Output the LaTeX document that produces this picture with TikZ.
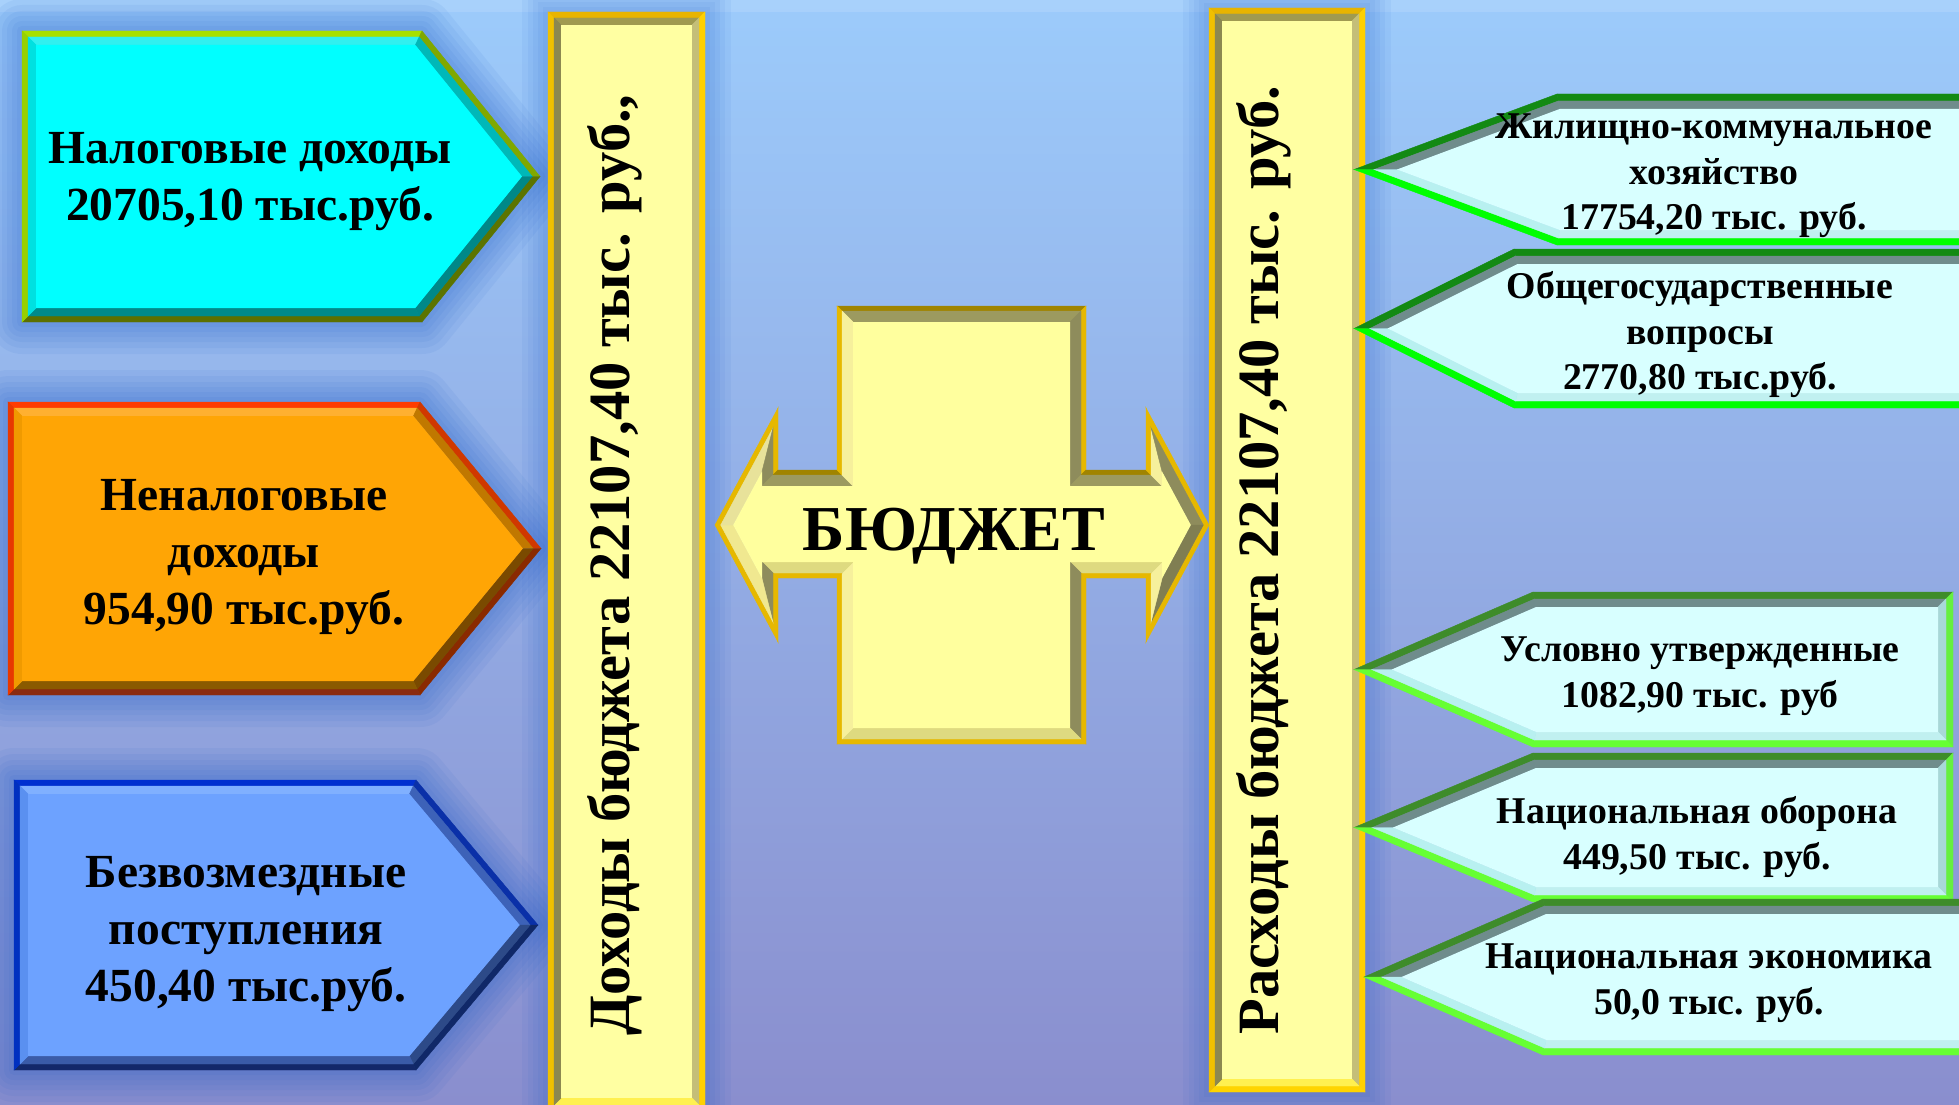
\documentclass[tikz,border=0pt]{standalone}
\usepackage{fontspec}
\setmainfont{Liberation Serif}
\usetikzlibrary{calc}
\definecolor{bgtop}{HTML}{9CCBFB}
\definecolor{bgbot}{HTML}{8A8ECE}
\definecolor{glowc}{HTML}{1A5AC8}
% left shape 1 (cyan)
\definecolor{aF}{HTML}{00FFFF}
\definecolor{aB1}{HTML}{A6E000}\definecolor{aB2}{HTML}{80A800}\definecolor{aB3}{HTML}{5C7400}\definecolor{aB4}{HTML}{5C7000}\definecolor{aB5}{HTML}{98D000}
\definecolor{aV1}{HTML}{30F0F0}\definecolor{aV2}{HTML}{00B8B8}\definecolor{aV3}{HTML}{008888}\definecolor{aV4}{HTML}{008A8A}\definecolor{aV5}{HTML}{00E0E0}
% left shape 2 (orange)
\definecolor{bF}{HTML}{FFA505}
\definecolor{bB1}{HTML}{FF3C00}\definecolor{bB2}{HTML}{D03800}\definecolor{bB3}{HTML}{8A2A00}\definecolor{bB4}{HTML}{8A2A10}\definecolor{bB5}{HTML}{E83800}
\definecolor{bV1}{HTML}{FFB030}\definecolor{bV2}{HTML}{C07800}\definecolor{bV3}{HTML}{7A4A00}\definecolor{bV4}{HTML}{8A5A00}\definecolor{bV5}{HTML}{F09A00}
% left shape 3 (blue)
\definecolor{cF}{HTML}{6DA2FF}
\definecolor{cB1}{HTML}{0030D0}\definecolor{cB2}{HTML}{0A30A8}\definecolor{cB3}{HTML}{102868}\definecolor{cB4}{HTML}{13286A}\definecolor{cB5}{HTML}{0030C0}
\definecolor{cV1}{HTML}{80B0FF}\definecolor{cV2}{HTML}{3D62B8}\definecolor{cV3}{HTML}{2D4A88}\definecolor{cV4}{HTML}{3A5BA8}\definecolor{cV5}{HTML}{5A90F0}
% right shapes
\definecolor{rF}{HTML}{D8FFFF}
\definecolor{rBd}{HTML}{138A13}\definecolor{rBl}{HTML}{00FF00}\definecolor{rBr}{HTML}{20E020}
\definecolor{sBd}{HTML}{3E8C2A}\definecolor{sBl}{HTML}{66FF33}\definecolor{sBr}{HTML}{66F040}
\definecolor{rV1}{HTML}{6F8C8C}\definecolor{rV2}{HTML}{708C8C}\definecolor{rV3}{HTML}{A8D8D8}\definecolor{rV4}{HTML}{C0F0F0}\definecolor{rV5}{HTML}{B8F0F0}
% columns
\definecolor{kF}{HTML}{FFFFA2}
\definecolor{kB1}{HTML}{E8B400}\definecolor{kB2}{HTML}{FFD000}\definecolor{kB3}{HTML}{FFD400}\definecolor{kB4}{HTML}{F0C000}
\definecolor{kV1}{HTML}{A09A50}\definecolor{kV2}{HTML}{C4BE78}\definecolor{kV3}{HTML}{FFF050}\definecolor{kV4}{HTML}{8C8850}
% cross
\definecolor{xF}{HTML}{FFFF9E}
\definecolor{xBd}{HTML}{A08400}\definecolor{xB}{HTML}{E6B800}
\definecolor{xVd}{HTML}{9C9A60}\definecolor{xVr}{HTML}{8E8C5C}\definecolor{xVr2}{HTML}{807E52}
\definecolor{xVl}{HTML}{F6F09C}\definecolor{xVl2}{HTML}{F0E890}\definecolor{xVl3}{HTML}{E8E29A}\definecolor{xVb}{HTML}{DEDA80}

\newcommand\bwA{6}\newcommand\bwB{14}
% right-pointing pentagon: prefix, x0, x1, xt, y0, y1
\newcommand\mkpentR[6]{%
  \pgfmathsetmacro\qH{(#6-#5)/2}%
  \pgfmathsetmacro\qL{#4-#3}%
  \pgfmathsetmacro\qR{100*sqrt((\qH/100)^2+(\qL/100)^2)}%
  \pgfmathsetmacro\qM{(#5+#6)/2}%
  \pgfmathsetmacro\qA{(\qL-\qR)/\qH}%
  \pgfmathsetmacro\qT{\qR/\qH}%
  \foreach \k/\d in {0/0,1/\bwA,2/\bwB}{%
    \coordinate (#1\k a) at (#2+\d,#5+\d);
    \coordinate (#1\k b) at (#3+\d*\qA,#5+\d);
    \coordinate (#1\k c) at (#4-\d*\qT,\qM);
    \coordinate (#1\k d) at (#3+\d*\qA,#6-\d);
    \coordinate (#1\k e) at (#2+\d,#6-\d);
  }%
}
% left-pointing pentagon: prefix, xt, x1, x2, y0, y1
\newcommand\mkpentL[6]{%
  \pgfmathsetmacro\qH{(#6-#5)/2}%
  \pgfmathsetmacro\qL{#3-#2}%
  \pgfmathsetmacro\qR{100*sqrt((\qH/100)^2+(\qL/100)^2)}%
  \pgfmathsetmacro\qM{(#5+#6)/2}%
  \pgfmathsetmacro\qA{(\qR-\qL)/\qH}%
  \pgfmathsetmacro\qT{\qR/\qH}%
  \foreach \k/\d in {0/0,1/\bwA,2/\bwB}{%
    \coordinate (#1\k a) at (#2+\d*\qT,\qM);
    \coordinate (#1\k b) at (#3+\d*\qA,#5+\d);
    \coordinate (#1\k c) at (#4-\d,#5+\d);
    \coordinate (#1\k d) at (#4-\d,#6-\d);
    \coordinate (#1\k e) at (#3+\d*\qA,#6-\d);
  }%
}
% strips between layer #2 and #3, colours #4..#8 for edges ab bc cd de ea
\newcommand\pstrips[8]{%
  \filldraw[fill=#4,draw=#4,line width=0.4pt] (#1#2a) -- (#1#2b) -- (#1#3b) -- (#1#3a) -- cycle;
  \filldraw[fill=#5,draw=#5,line width=0.4pt] (#1#2b) -- (#1#2c) -- (#1#3c) -- (#1#3b) -- cycle;
  \filldraw[fill=#6,draw=#6,line width=0.4pt] (#1#2c) -- (#1#2d) -- (#1#3d) -- (#1#3c) -- cycle;
  \filldraw[fill=#7,draw=#7,line width=0.4pt] (#1#2d) -- (#1#2e) -- (#1#3e) -- (#1#3d) -- cycle;
  \filldraw[fill=#8,draw=#8,line width=0.4pt] (#1#2e) -- (#1#2a) -- (#1#3a) -- (#1#3e) -- cycle;
}
\newcommand\pfill[2]{\fill[#2] (#12a) -- (#12b) -- (#12c) -- (#12d) -- (#12e) -- cycle;}
\newcommand\pglow[1]{\foreach \w in {10,20,30,40,52,64}{\draw[glowc,opacity=0.065,line width=\w pt,line join=round] (#10a) -- (#10b) -- (#10c) -- (#10d) -- (#10e) -- cycle;}}
% rectangle: prefix x0 y0 x1 y1
\newcommand\mkrect[5]{%
  \foreach \k/\d in {0/0,1/6,2/13}{%
    \coordinate (#1\k a) at (#2+\d,#3+\d);
    \coordinate (#1\k b) at (#4-\d,#3+\d);
    \coordinate (#1\k c) at (#4-\d,#5-\d);
    \coordinate (#1\k d) at (#2+\d,#5-\d);
  }%
}
\newcommand\rstrips[7]{%
  \filldraw[fill=#4,draw=#4,line width=0.4pt] (#1#2a) -- (#1#2b) -- (#1#3b) -- (#1#3a) -- cycle;
  \filldraw[fill=#5,draw=#5,line width=0.4pt] (#1#2b) -- (#1#2c) -- (#1#3c) -- (#1#3b) -- cycle;
  \filldraw[fill=#6,draw=#6,line width=0.4pt] (#1#2c) -- (#1#2d) -- (#1#3d) -- (#1#3c) -- cycle;
  \filldraw[fill=#7,draw=#7,line width=0.4pt] (#1#2d) -- (#1#2a) -- (#1#3a) -- (#1#3d) -- cycle;
}
% cross (double arrow)
\newcommand\mkcross[2]{%
 \coordinate (X#1v1) at (837+#2,306+#2);
 \coordinate (X#1v2) at (1086-#2,306+#2);
 \coordinate (X#1v3) at (1086-#2,470+#2);
 \coordinate (X#1v4) at (1146+#2,470+#2);
 \coordinate (X#1v5) at (1146+#2,408+3.966*#2);
 \coordinate (X#1v6) at (1209-1.136*#2,525);
 \coordinate (X#1v7) at (1146+#2,642-3.966*#2);
 \coordinate (X#1v8) at (1146+#2,578-#2);
 \coordinate (X#1v9) at (1086-#2,578-#2);
 \coordinate (X#1v10) at (1086-#2,744-#2);
 \coordinate (X#1v11) at (837+#2,744-#2);
 \coordinate (X#1v12) at (837+#2,578-#2);
 \coordinate (X#1v13) at (778-#2,578-#2);
 \coordinate (X#1v14) at (778-#2,642-3.966*#2);
 \coordinate (X#1v15) at (715+1.136*#2,525);
 \coordinate (X#1v16) at (778-#2,408+3.966*#2);
 \coordinate (X#1v17) at (778-#2,470+#2);
 \coordinate (X#1v18) at (837+#2,470+#2);
}
\tikzset{
  lefttext/.style={font=\bfseries\fontsize{47.5}{57}\selectfont,align=center,text=black},
  righttext/.style={font=\bfseries\fontsize{37.8}{45.5}\selectfont,align=center,text=black},
  coltext/.style={font=\bfseries\fontsize{58.5}{60}\selectfont,rotate=90,text=black},
  budtext/.style={font=\bfseries\fontsize{64}{70}\selectfont,anchor=base,text=black}
}
\begin{document}
\begin{tikzpicture}[x=1pt,y=-1pt,line join=miter]
\useasboundingbox (0,0) rectangle (1959,1105);
\clip (0,0) rectangle (1959,1105);
\shade[top color=bgtop,bottom color=bgbot] (0,0) rectangle (1959,1105);
\fill[white,opacity=0.12] (0,0) rectangle (1959,12);

% geometry
\renewcommand\bwA{6}\renewcommand\bwB{14}
\mkpentR{La}{22}{422}{540}{31}{322}
\mkpentR{Lb}{8}{420}{541}{402}{695}
\mkpentR{Lc}{14}{416}{538}{780}{1070}
\renewcommand\bwA{7}\renewcommand\bwB{15}
\mkpentL{Ra}{1354}{1557}{1975}{94}{245}
\mkpentL{Rb}{1354}{1514}{1975}{249}{408}
\mkpentL{Rc}{1354}{1533}{1953}{592}{747}
\mkpentL{Rd}{1354}{1533}{1953}{753}{902}
\mkpentL{Re}{1364}{1543}{1975}{899}{1055}
\mkrect{CL}{548}{12}{705}{1111}
\mkrect{CR}{1209}{8}{1365}{1092}
\mkcross{0}{0}\mkcross{1}{5}\mkcross{2}{16}

% glows
\pglow{La}\pglow{Lb}\pglow{Lc}
\foreach \w in {10,20,30,40,52}{
  \draw[glowc,opacity=0.06,line width=\w pt] (CL0a) -- (CL0b) -- (CL0c) -- (CL0d) -- cycle;
  \draw[glowc,opacity=0.06,line width=\w pt] (CR0a) -- (CR0b) -- (CR0c) -- (CR0d) -- cycle;
}

% columns
\rstrips{CL}{0}{1}{kB1}{kB2}{kB3}{kB4}
\rstrips{CL}{1}{2}{kV1}{kV2}{kV3}{kV4}
\fill[kF] (CL2a) -- (CL2b) -- (CL2c) -- (CL2d) -- cycle;
\rstrips{CR}{0}{1}{kB1}{kB2}{kB3}{kB4}
\rstrips{CR}{1}{2}{kV1}{kV2}{kV3}{kV4}
\fill[kF] (CR2a) -- (CR2b) -- (CR2c) -- (CR2d) -- cycle;

% left shapes
\pstrips{La}{0}{1}{aB1}{aB2}{aB3}{aB4}{aB5}
\pstrips{La}{1}{2}{aV1}{aV2}{aV3}{aV4}{aV5}
\pfill{La}{aF}
\pstrips{Lb}{0}{1}{bB1}{bB2}{bB3}{bB4}{bB5}
\pstrips{Lb}{1}{2}{bV1}{bV2}{bV3}{bV4}{bV5}
\pfill{Lb}{bF}
\pstrips{Lc}{0}{1}{cB1}{cB2}{cB3}{cB4}{cB5}
\pstrips{Lc}{1}{2}{cV1}{cV2}{cV3}{cV4}{cV5}
\pfill{Lc}{cF}

% cross
\foreach \i/\j/\cb/\cv in {1/2/xBd/xVd,2/3/xB/xVr,3/4/xBd/xVd,4/5/xB/xVl,5/6/xB/xVr,6/7/xB/xVr2,7/8/xB/xVl,8/9/xB/xVb,9/10/xB/xVr,10/11/xB/xVb,11/12/xB/xVl,12/13/xB/xVb,13/14/xB/xVr,14/15/xB/xVl2,15/16/xB/xVl3,16/17/xB/xVr,17/18/xBd/xVd,18/1/xB/xVl}{
  \filldraw[fill=\cb,draw=\cb,line width=0.4pt] (X0v\i) -- (X0v\j) -- (X1v\j) -- (X1v\i) -- cycle;
  \filldraw[fill=\cv,draw=\cv,line width=0.4pt] (X1v\i) -- (X1v\j) -- (X2v\j) -- (X2v\i) -- cycle;
}
\fill[xF] (X2v1) -- (X2v2) -- (X2v3) -- (X2v4) -- (X2v5) -- (X2v6) -- (X2v7) -- (X2v8) -- (X2v9) -- (X2v10) -- (X2v11) -- (X2v12) -- (X2v13) -- (X2v14) -- (X2v15) -- (X2v16) -- (X2v17) -- (X2v18) -- cycle;

% right shapes
\pstrips{Ra}{0}{1}{rBd}{rBd}{rBr}{rBl}{rBl}
\pstrips{Ra}{1}{2}{rV1}{rV2}{rV3}{rV4}{rV5}
\pfill{Ra}{rF}
\pstrips{Rb}{0}{1}{rBd}{rBd}{rBr}{rBl}{rBl}
\pstrips{Rb}{1}{2}{rV1}{rV2}{rV3}{rV4}{rV5}
\pfill{Rb}{rF}
\pstrips{Rc}{0}{1}{sBd}{sBd}{sBr}{sBl}{sBl}
\pstrips{Rc}{1}{2}{rV1}{rV2}{rV3}{rV4}{rV5}
\pfill{Rc}{rF}
\pstrips{Rd}{0}{1}{sBd}{sBd}{sBr}{sBl}{sBl}
\pstrips{Rd}{1}{2}{rV1}{rV2}{rV3}{rV4}{rV5}
\pfill{Rd}{rF}
\pstrips{Re}{0}{1}{sBd}{sBd}{sBr}{sBl}{sBl}
\pstrips{Re}{1}{2}{rV1}{rV2}{rV3}{rV4}{rV5}
\pfill{Re}{rF}

% texts
\node[lefttext] (tNal) at (250,182) {Налоговые доходы\\20705,10 тыс.руб.};
\node[lefttext] (tNen) at (244,557) {Неналоговые\\доходы\\954,90 тыс.руб.};
\node[lefttext] (tBez) at (246,934) {Безвозмездные\\поступления\\450,40 тыс.руб.};
\node[coltext] (tInc) at (615,565) {Доходы бюджета 22107,40 тыс. руб.,};
\node[coltext] (tExp) at (1264,560) {Расходы бюджета 22107,40 тыс. руб.};
\node[budtext] (tBud) at (954,550) {БЮДЖЕТ};
\node[righttext] (tR1) at (1714,176) {Жилищно-коммунальное\\хозяйство\\17754,20 тыс. руб.};
\node[righttext] (tR2) at (1700,335) {Общегосударственные\\вопросы\\2770,80 тыс.руб.};
\node[righttext] (tR3) at (1700,676) {Условно утвержденные\\1082,90 тыс. руб};
\node[righttext] (tR4) at (1697,837) {Национальная оборона\\449,50 тыс. руб.};
\node[righttext] (tR5) at (1709,983) {Национальная экономика\\50,0 тыс. руб.};
\end{tikzpicture}
\end{document}
